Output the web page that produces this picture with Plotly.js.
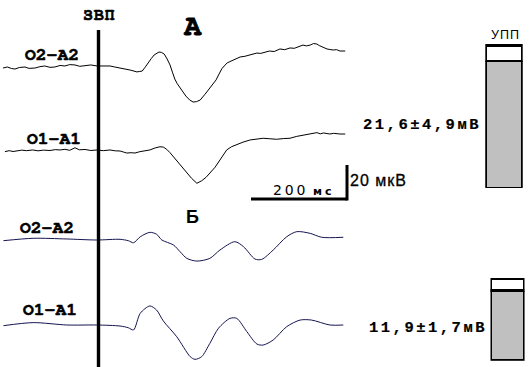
<!DOCTYPE html>
<html><head><meta charset="utf-8">
<script src="https://cdn.plot.ly/plotly-3.0.1.min.js"></script>
<style>html,body{margin:0;padding:0;background:#fff;}#chart{width:530px;height:367px;}</style>
</head><body><div id="chart"></div>
<script>
// ---- data (time in ms from stimulus, amplitude in µV) ----
const leadLabels = ['O2-A2', 'O1-A1', 'O2-A2', 'O1-A1'];
const panelLabels = ['А', 'Б'];
const stimLabel = 'ЗВП';
const barLabel = 'УПП';

const tA_O2 = [-199,-190,-181,-174,-165,-153,-145,-132,-122,-112,-101,-91,-80,-70,-60,-49,-39,-28,-16,-3,10,24,34,45,55,66,74,80,86,91,97,103,110,116,121,126,131,137,143,149,154,159,164,170,176,182,190,197,204,212,222,232,238,245,249,253,257,262,268,274,280,287,295,305,316,323,330,338,347,356,366,378,388,399,408,417,426,433,441,448,455,460,466,471,476,482,489,496,503,514];
const vA_O2 = [-0.6,0.0,-0.9,-1.2,-0.3,0.0,-0.8,-0.6,0.2,0.6,-0.2,0.0,0.9,0.6,1.4,1.2,0.4,0.6,1.2,0.6,0.4,0.6,0.0,-0.6,-0.9,-1.8,-2.4,-2.9,-2.6,-2.4,-0.2,2.4,5.0,7.1,8.2,8.8,8.6,7.6,4.7,1.2,-3.0,-7.1,-9.8,-12.4,-15.0,-17.1,-19.4,-20.6,-20.4,-19.4,-16.0,-12.4,-10.0,-7.6,-5.3,-2.9,-1.0,0.6,2.4,3.2,4.1,4.7,5.9,6.3,7.1,7.6,8.2,8.0,8.8,9.4,9.1,10.6,10.2,11.2,11.0,12.0,12.9,12.4,12.9,13.8,13.5,12.6,11.8,11.2,10.6,10.3,10.0,10.2,9.4,9.4];

const tA_O1 = [-195,-186,-178,-170,-160,-150,-137,-126,-115,-101,-90,-80,-70,-60,-49,-40,-28,-16,-3,10,24,35,45,52,59,68,76,86,97,107,118,128,135,142,149,156,166,177,186,194,205,215,224,232,243,253,260,267,277,288,301,316,330,343,357,371,385,399,413,427,441,455,462,469,482,490,503,514];
const vA_O1 = [-0.4,0.2,-0.3,0.0,0.5,0.2,0.6,0.1,0.5,0.3,0.8,0.6,1.0,0.4,1.9,0.7,0.9,0.3,0.6,0.2,0.6,0.1,0.0,-0.6,-1.2,-1.0,-1.2,-0.4,0.2,0.6,1.8,2.5,2.3,1.0,-1.0,-3.4,-7.0,-10.8,-14.0,-16.1,-19.0,-17.5,-15.5,-13.1,-9.5,-5.3,-2.4,0.6,2.5,3.9,5.2,6.5,7.0,7.5,7.2,6.9,7.3,7.5,8.6,9.4,10.2,10.8,10.1,10.6,10.0,10.4,10.0,10.0];

const tB_O2 = [-198,-136,-66,-4,45,62,73,87,107,121,132,156,170,184,205,232,253,284,302,326,340,364,392,413,441,465,510];
const vB_O2 = [-0.4,1.0,0.6,0,0.4,-0.4,-1.6,1.9,4.5,3.4,0,-2.9,-6.9,-10.8,-12.4,-10.8,-5.9,-1.0,-3.9,-11.2,-11.4,-5.9,1.9,4.9,3.9,1.6,1.6];

const tB_O1 = [-198,-136,-66,-4,45,62,73,87,107,121,135,163,191,201,215,232,250,274,288,309,330,343,364,392,420,444,482,510];
const vB_O1 = [-0.4,1.4,0,0,-0.6,-1.6,-2.9,6.9,11.2,8.8,2.4,-6.9,-18.6,-20.2,-18.6,-10.8,-1.9,3.9,3.9,-3.9,-11.2,-11.8,-8.8,-1.0,2.9,2.9,0,0];

const barMeans = [21.6, 11.9];
const barSD = [4.9, 1.7];
const barCaps = [2.7, 2.0];
const barTexts = ['21,6±4,9мВ', '11,9±1,7мВ'];
const scaleMs = 200, scaleUv = 20;
const scaleMsLabel = '200', scaleMsUnit = 'мс';
const scaleUvLabel = '20 мкВ';

// ---- geometry ----
const W = 530, H = 367;
const stimPx = 98.5, pxPerMs = 0.48, pxPerUv = 1.7, halfPx = 40;
const baselines = [67, 151, 240, 325];
const barPxPerUnit = 5.88;
const barBoxes = [ {x0:485.3, x1:522.7, bottom:188, top:27}, {x0:490.5, x1:524.5, bottom:360.8, top:270} ];
const px = v => v / W, py = v => (H - v) / H;

const series = [[tA_O2, vA_O2], [tA_O1, vA_O1], [tB_O2, vB_O2], [tB_O1, vB_O1]];
const colors = ['#000000', '#000000', '#141450', '#141450'];
const data = [];
series.forEach((s, i) => {
  data.push({
    x: s[0], y: s[1], type: 'scatter', mode: 'lines',
    xaxis: 'x', yaxis: i === 0 ? 'y' : 'y' + (i + 1),
    line: {color: colors[i], width: 1, shape: i < 2 ? 'linear' : 'spline', smoothing: 0.8},
    hoverinfo: 'skip', showlegend: false
  });
});
// bars: mean (gray) + cap (white), stacked
barMeans.forEach((m, i) => {
  const xa = 'x' + (i + 2), ya = 'y' + (i + 5);
  data.push({x: [0], y: [m], type: 'bar', xaxis: xa, yaxis: ya, width: 1,
    marker: {color: '#c0c0c0', line: {color: '#000', width: 2.8}}, cliponaxis: false, showlegend: false, hoverinfo: 'skip'});
  data.push({x: [0], y: [barCaps[i]], type: 'bar', xaxis: xa, yaxis: ya, width: 1,
    marker: {color: '#ffffff', line: {color: '#000', width: 2.8}}, cliponaxis: false, showlegend: false, hoverinfo: 'skip'});
});

const layout = {
  width: W, height: H, margin: {l: 0, r: 0, t: 0, b: 0, pad: 0},
  paper_bgcolor: '#ffffff', plot_bgcolor: 'rgba(0,0,0,0)',
  barmode: 'stack', showlegend: false,
  xaxis: {domain: [0, 1], range: [-stimPx / pxPerMs, (W - stimPx) / pxPerMs], visible: false, fixedrange: true},
  shapes: [], annotations: []
};
baselines.forEach((b, i) => {
  const key = i === 0 ? 'yaxis' : 'yaxis' + (i + 1);
  layout[key] = {domain: [(H - b - halfPx) / H, (H - b + halfPx) / H], range: [-halfPx / pxPerUv, halfPx / pxPerUv],
    anchor: 'x', visible: false, fixedrange: true};
});
barBoxes.forEach((bb, i) => {
  layout['xaxis' + (i + 2)] = {domain: [px(bb.x0), px(bb.x1)], range: [-0.5, 0.5], anchor: 'y' + (i + 5), visible: false, fixedrange: true};
  layout['yaxis' + (i + 5)] = {domain: [py(bb.bottom), py(bb.top)], range: [0, (bb.bottom - bb.top) / barPxPerUnit],
    anchor: 'x' + (i + 2), visible: false, fixedrange: true};
});

// stimulus line at t = 0
layout.shapes.push({type: 'line', xref: 'x', yref: 'paper', x0: 0, x1: 0, y0: 0, y1: py(30), line: {color: '#000', width: 3.4}});
// scale bar
const sbStart = (251 - stimPx) / pxPerMs, sbY = py(199);
layout.shapes.push({type: 'line', xref: 'x', yref: 'paper', x0: sbStart, x1: sbStart + scaleMs, y0: sbY, y1: sbY, line: {color: '#000', width: 3}});
layout.shapes.push({type: 'line', xref: 'x', yref: 'paper', x0: sbStart + scaleMs, x1: sbStart + scaleMs, y0: sbY - 1.5 / H, y1: sbY + scaleUv * pxPerUv / H, line: {color: '#000', width: 3}});

const courier = 'FreeMono, Courier New, monospace';
const mono = 'Liberation Mono, monospace';
const sans = 'Liberation Sans, Arial, sans-serif';
const heavy = (t, w, ls) => '<b><span style="stroke:#000;stroke-width:' + w + 'px' + (ls ? ';letter-spacing:' + ls + 'px' : '') + '">' + t + '</span></b>';
const ann = (text, x, y, font, xanchor) => layout.annotations.push({
  text: text, x: px(x), y: py(y), xref: 'paper', yref: 'paper', showarrow: false,
  xanchor: xanchor || 'center', yanchor: 'middle', font: Object.assign({color: '#000'}, font)
});
ann(heavy(stimLabel, 0.5, 0.5), 99, 14, {family: courier, size: 17});
ann(heavy(panelLabels[0], 0.8), 192.5, 26, {family: courier, size: 29});
ann('<b>' + panelLabels[1] + '</b>', 192.5, 217, {family: sans, size: 18});
const labelPos = [[51.5, 55], [53.5, 139], [47, 228], [50, 310]];
leadLabels.forEach((l, i) => ann(heavy(l, 0.6), labelPos[i][0], labelPos[i][1], {family: courier, size: 18}));
ann('<span style="letter-spacing:2.8px">' + scaleMsLabel + '</span>', 290, 190, {family: 'DejaVu Sans, sans-serif', size: 14});
ann('<b><span style="letter-spacing:3px">' + scaleMsUnit + '</span></b>', 324, 191, {family: 'DejaVu Sans, sans-serif', size: 11});
ann('<span style="stroke:#000;stroke-width:0.3px;letter-spacing:1px">' + scaleUvLabel + '</span>', 348, 181, {family: sans, size: 16}, 'left');
ann(heavy(barTexts[0], 0.2, 2.5), 422, 125, {family: mono, size: 15.5});
ann(heavy(barTexts[1], 0.2, 2.5), 428, 328, {family: mono, size: 15.5});
ann('<span style="letter-spacing:1px">' + barLabel + '</span>', 505, 34.5, {family: sans, size: 12.5});

Plotly.newPlot('chart', data, layout, {staticPlot: true, displayModeBar: false});
</script></body></html>
